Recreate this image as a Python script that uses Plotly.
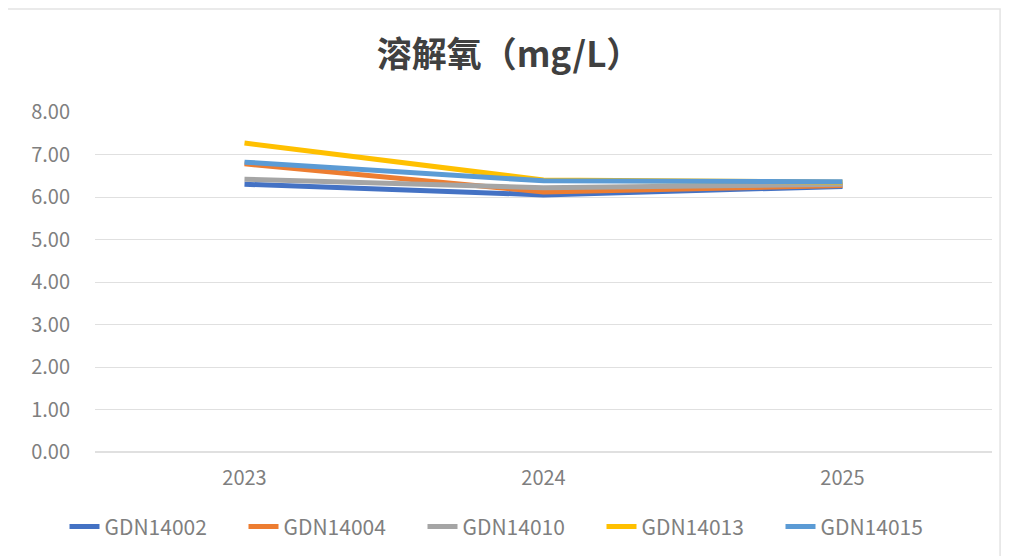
import plotly.graph_objects as go

years = ["2023", "2024", "2025"]

gdn14002 = [6.30, 6.05, 6.25]
gdn14004 = [6.78, 6.12, 6.27]
gdn14010 = [6.42, 6.22, 6.30]
gdn14013 = [7.27, 6.40, 6.35]
gdn14015 = [6.82, 6.38, 6.36]

names = ["GDN14002", "GDN14004", "GDN14010", "GDN14013", "GDN14015"]
series = [gdn14002, gdn14004, gdn14010, gdn14013, gdn14015]
colors = ["#4472C4", "#ED7D31", "#A5A5A5", "#FFC000", "#5B9BD5"]

font = "Noto Sans CJK SC"

fig = go.Figure()
for name, vals, c in zip(names, series, colors):
    fig.add_trace(
        go.Scatter(
            x=years,
            y=vals,
            mode="lines",
            name=name,
            line=dict(color=c, width=5),
        )
    )

# outer chart frame (very light)
fig.add_shape(
    type="rect", xref="paper", yref="paper",
    x0=-0.098, x1=1.009, y0=-0.32, y1=1.303,
    line=dict(color="#e3e3e3", width=1.5),
)

# page is drawn inside the body's 8px margin, so the figure is 8px smaller
fig.update_layout(
    width=1002,
    height=548,
    margin=dict(l=87, r=18, t=104, b=104, autoexpand=False),
    paper_bgcolor="white",
    plot_bgcolor="white",
    font=dict(family=font, color="#7f7f7f", size=20),
    title=dict(
        text="<b>溶解氧（mg/L）</b>",
        x=0.5,
        xref="container",
        y=0.915,
        yanchor="middle",
        font=dict(family=font, size=35, color="#404040"),
    ),
    showlegend=True,
    legend=dict(
        orientation="h",
        xref="container",
        x=0.503,
        xanchor="center",
        y=-0.22,
        yanchor="middle",
        font=dict(size=21, color="#7f7f7f"),
        entrywidth=134,
        tracegroupgap=0,
    ),
    xaxis=dict(
        type="category",
        range=[-0.5, 2.5],
        showgrid=False,
        showline=False,
        ticks="",
        ticklabelstandoff=12,
        tickfont=dict(size=20),
    ),
    yaxis=dict(
        range=[0, 8],
        dtick=1,
        tickformat=".2f",
        showgrid=True,
        gridcolor="#e0e0e0",
        gridwidth=1,
        zeroline=True,
        zerolinecolor="#e0e0e0",
        showline=False,
        ticks="",
        ticklabelstandoff=24,
        tickfont=dict(size=20),
    ),
)

fig.write_html("out.html")
